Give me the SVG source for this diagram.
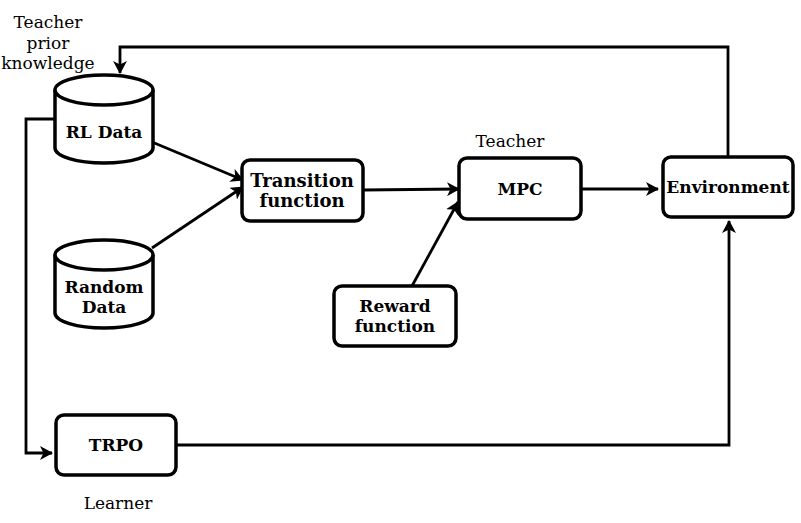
<svg xmlns="http://www.w3.org/2000/svg" width="801" height="523" viewBox="0 0 801 523">
<style>
.box{fill:#fff;stroke:#000;stroke-width:3.5}
.cyl{fill:#fff;stroke:#000;stroke-width:3.5}
.lbl{font-family:"DejaVu Serif",serif;font-weight:bold;font-size:17px;text-anchor:middle;fill:#000}
.big{font-size:18px}
.note{font-family:"DejaVu Serif",serif;font-size:17px;text-anchor:middle;fill:#000}
.con{fill:none;stroke:#000;stroke-width:2.8}
</style>
<defs>
<marker id="arr" markerWidth="14" markerHeight="14" viewBox="0 0 14 14" refX="12" refY="7" orient="auto" markerUnits="userSpaceOnUse">
<path d="M0,0 L13,7 L0,14 L3.5,7 Z" fill="#000"/>
</marker>
</defs>
<g id="connectors">
<path class="con" d="M728,157 V47 H120 V73" marker-end="url(#arr)"/>
<path class="con" d="M55,119 H26 V453 H52" marker-end="url(#arr)"/>
<path class="con" d="M152,142 L243,180" marker-end="url(#arr)"/>
<path class="con" d="M152,248 L243,187" marker-end="url(#arr)"/>
<path class="con" d="M363,190 L459,189" marker-end="url(#arr)"/>
<path class="con" d="M412,286 L458,202" marker-end="url(#arr)"/>
<path class="con" d="M582,189 L658,189" marker-end="url(#arr)"/>
<path class="con" d="M176,445 H729 V221" marker-end="url(#arr)"/>
</g>
<g id="rl-data">
<path class="cyl" d="M55,90 A49,15 0 0 1 153,90 V148 A49,15 0 0 1 55,148 Z"/>
<path class="cyl" d="M55,90 A49,15 0 0 0 153,90" fill="none"/>
<text class="lbl" x="104" y="138">RL Data</text>
</g>
<g id="random-data">
<path class="cyl" d="M55,255 A49,15 0 0 1 153,255 V313 A49,15 0 0 1 55,313 Z"/>
<path class="cyl" d="M55,255 A49,15 0 0 0 153,255" fill="none"/>
<text class="lbl" x="104" y="293">Random</text>
<text class="lbl" x="104" y="313">Data</text>
</g>
<g id="transition">
<rect class="box" x="242" y="160" width="121" height="61" rx="8"/>
<text class="lbl big" x="302" y="187">Transition</text>
<text class="lbl big" x="302" y="207">function</text>
</g>
<g id="mpc">
<rect class="box" x="459" y="158" width="122" height="61" rx="8"/>
<text class="lbl" x="520" y="195">MPC</text>
</g>
<g id="reward">
<rect class="box" x="334" y="286" width="122" height="60" rx="8"/>
<text class="lbl" x="395" y="312">Reward</text>
<text class="lbl" x="395" y="332">function</text>
</g>
<g id="environment">
<rect class="box" x="663" y="157" width="130" height="60" rx="8"/>
<text class="lbl" x="728" y="193">Environment</text>
</g>
<g id="trpo">
<rect class="box" x="56" y="415" width="120" height="60" rx="8"/>
<text class="lbl" x="116" y="451">TRPO</text>
</g>
<g id="notes">
<text class="note" x="48" y="28">Teacher</text>
<text class="note" x="48" y="49">prior</text>
<text class="note" x="48" y="69">knowledge</text>
<text class="note" x="510" y="147">Teacher</text>
<text class="note" x="118" y="509">Learner</text>
</g>
</svg>
